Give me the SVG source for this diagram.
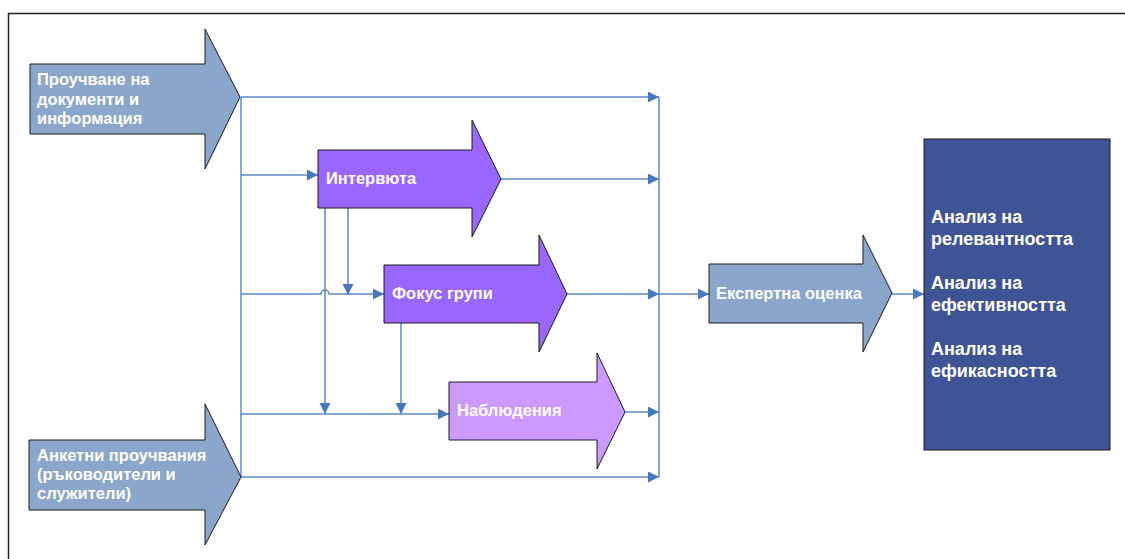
<svg xmlns="http://www.w3.org/2000/svg" width="1125" height="559" viewBox="0 0 1125 559">
<defs>
<marker id="ah" viewBox="0 0 10 10" refX="10" refY="5" markerWidth="16" markerHeight="11" markerUnits="userSpaceOnUse" orient="auto">
<path d="M0,0 L10,5 L0,10 Z" fill="#4677C0"/>
</marker>
<style>
.shape{stroke:#1a1a1a;stroke-width:1}
.blue{fill:#8AA6CB}
.purple{fill:#9966FF}
.lilac{fill:#CC99FF}
.dark{fill:#3F5397}
.lbl{font-family:"Liberation Sans",Arial,sans-serif;font-weight:bold;font-size:16.5px;fill:#fff}
.big{font-family:"Liberation Sans",Arial,sans-serif;font-weight:bold;font-size:18px;fill:#fff}
.c{fill:none;stroke:#5B87C9;stroke-width:1.5}
</style>
</defs>
<rect width="1125" height="559" fill="#fff"/>
<path d="M8.5,559 V13.5 H1125" fill="none" stroke="#222" stroke-width="1.5"/>
<g id="connectors">
<line class="c" x1="241" y1="97" x2="241" y2="477"/>
<line class="c" x1="659" y1="97" x2="659" y2="477"/>
<line class="c" x1="241" y1="97" x2="659" y2="97" marker-end="url(#ah)"/>
<line class="c" x1="241" y1="175" x2="318" y2="175" marker-end="url(#ah)"/>
<line class="c" x1="501" y1="179" x2="659" y2="179" marker-end="url(#ah)"/>
<path class="c" d="M241,294 H321 a4,4 0 0 1 8,0 H384" marker-end="url(#ah)"/>
<line class="c" x1="567" y1="294" x2="659" y2="294" marker-end="url(#ah)"/>
<line class="c" x1="659" y1="294" x2="709" y2="294" marker-end="url(#ah)"/>
<line class="c" x1="348" y1="208" x2="348" y2="295" marker-end="url(#ah)"/>
<line class="c" x1="325" y1="208" x2="325" y2="414" marker-end="url(#ah)"/>
<line class="c" x1="401" y1="323" x2="401" y2="414" marker-end="url(#ah)"/>
<line class="c" x1="241" y1="414" x2="449" y2="414" marker-end="url(#ah)"/>
<line class="c" x1="625" y1="412" x2="659" y2="412" marker-end="url(#ah)"/>
<line class="c" x1="241" y1="477" x2="659" y2="477" marker-end="url(#ah)"/>
<line class="c" x1="892" y1="294" x2="924" y2="294" marker-end="url(#ah)"/>
</g>
<g id="n-docs">
<path class="shape blue" d="M30,64 H205 V29 L240,97 L205,169 V134 H30 Z"/>
<text class="lbl" x="37" y="85">Проучване на</text>
<text class="lbl" x="37" y="105">документи и</text>
<text class="lbl" x="37" y="124">информация</text>
</g>
<g id="n-interviews">
<path class="shape purple" d="M318,150 H472 V120 L501,179 L472,237 V208 H318 Z"/>
<text class="lbl" x="326" y="184">Интервюта</text>
</g>
<g id="n-focus">
<path class="shape purple" d="M384,265 H539 V235 L567,294 L539,352 V323 H384 Z"/>
<text class="lbl" x="392" y="299">Фокус групи</text>
</g>
<g id="n-observe">
<path class="shape lilac" d="M449,382 H597 V353 L625,412 L597,469 V440 H449 Z"/>
<text class="lbl" x="457" y="416">Наблюдения</text>
</g>
<g id="n-survey">
<path class="shape blue" d="M29,440 H205 V404 L241,477 L205,545 V510 H29 Z"/>
<text class="lbl" x="37" y="461">Анкетни проучвания</text>
<text class="lbl" x="37" y="480">(ръководители и</text>
<text class="lbl" x="37" y="499">служители)</text>
</g>
<g id="n-expert">
<path class="shape blue" d="M709,264 H863 V235 L892,293 L863,352 V323 H709 Z"/>
<text class="lbl" x="716" y="299">Експертна оценка</text>
</g>
<g id="n-analysis">
<rect class="shape dark" x="924" y="139" width="186" height="311"/>
<text class="big" x="931" y="223">Анализ на</text>
<text class="big" x="931" y="245">релевантността</text>
<text class="big" x="931" y="289">Анализ на</text>
<text class="big" x="931" y="311">ефективността</text>
<text class="big" x="931" y="355">Анализ на</text>
<text class="big" x="931" y="377">ефикасността</text>
</g>
</svg>
